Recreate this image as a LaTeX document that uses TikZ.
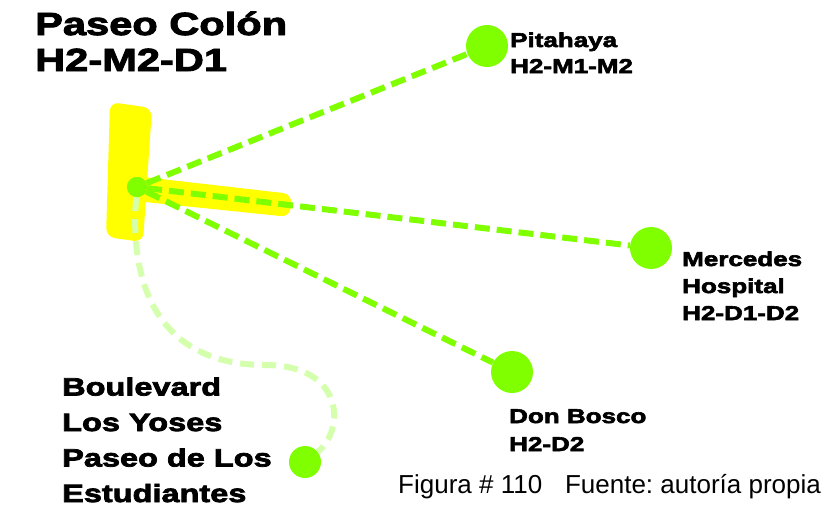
\documentclass[tikz,border=0pt]{standalone}
\usepackage{fontspec}
\setmainfont{Liberation Sans}
\newfontfamily\heavyfont{Liberation Sans Bold}[FakeStretch=1.3,FakeBold=3]
\usetikzlibrary{positioning}
\definecolor{signYellow}{RGB}{255,255,0}
\definecolor{routeGreen}{RGB}{128,255,0}
\definecolor{softGreen}{RGB}{212,255,172}
\frenchspacing

\tikzset{
 stop/.style={circle,fill=routeGreen,inner sep=0pt,minimum size=#1},
 route/.style={routeGreen,line width=6pt,dash pattern=on 15pt off 7pt},
 softroute/.style={softGreen,line width=6pt,dash pattern=on 14pt off 8pt},
 place/.style={anchor=base west,inner sep=0pt,align=left}
}

\begin{document}
\begin{tikzpicture}[x=1pt,y=-1pt]
 \useasboundingbox (0,0) rectangle (829,509);
 % street shape
 \fill[signYellow,rounded corners=9pt] (110,102) -- (152,108) -- (143,242) -- (106,237) -- cycle;
 \fill[signYellow,rounded corners=9pt] (135,176) -- (292,194) -- (290,217) -- (135,201) -- cycle;
 % stops
 \node[stop=20pt] (hub) at (137,187) {};
 \node[stop=42pt] (pitahaya) at (487,46) {};
 \node[stop=42pt] (mercedes) at (651,248) {};
 \node[stop=42pt] (bosco) at (512,372) {};
 \node[stop=32pt] (yoses) at (305,462) {};
 % routes
 \draw[softroute] (hub) .. controls (128,300) and (170,365) .. (265,365)
   .. controls (345,365) and (345,430) .. (yoses);
 \foreach \dest in {pitahaya,mercedes,bosco}
   \draw[route] (hub) -- (\dest);
 \node[stop=20pt] at (hub) {};
 % labels (anchored at the last baseline)
 \node[place,font={\heavyfont\fontsize{32}{36}\selectfont}] (colonlbl) at (35,71)
   {Paseo Colón\\H2-M2-D1};
 \node[place,font={\heavyfont\fontsize{20}{26}\selectfont}] (pitahayalbl) at (510,73)
   {Pitahaya\\H2-M1-M2};
 \node[place,font={\heavyfont\fontsize{20}{27}\selectfont}] (mercedeslbl) at (682,320)
   {Mercedes\\Hospital\\H2-D1-D2};
 \node[place,font={\heavyfont\fontsize{20}{28}\selectfont}] (boscolbl) at (509,451)
   {Don Bosco\\H2-D2};
 \node[place,font={\heavyfont\fontsize{25}{35.5}\selectfont}] (yoseslbl) at (62,502)
   {Boulevard\\Los Yoses\\Paseo de Los\\Estudiantes};
 \node[place,font={\fontsize{26}{30}\selectfont}] (caption) at (398,493)
   {Figura \# 110\hspace{0.6em} Fuente: autoría propia};
\end{tikzpicture}
\end{document}
